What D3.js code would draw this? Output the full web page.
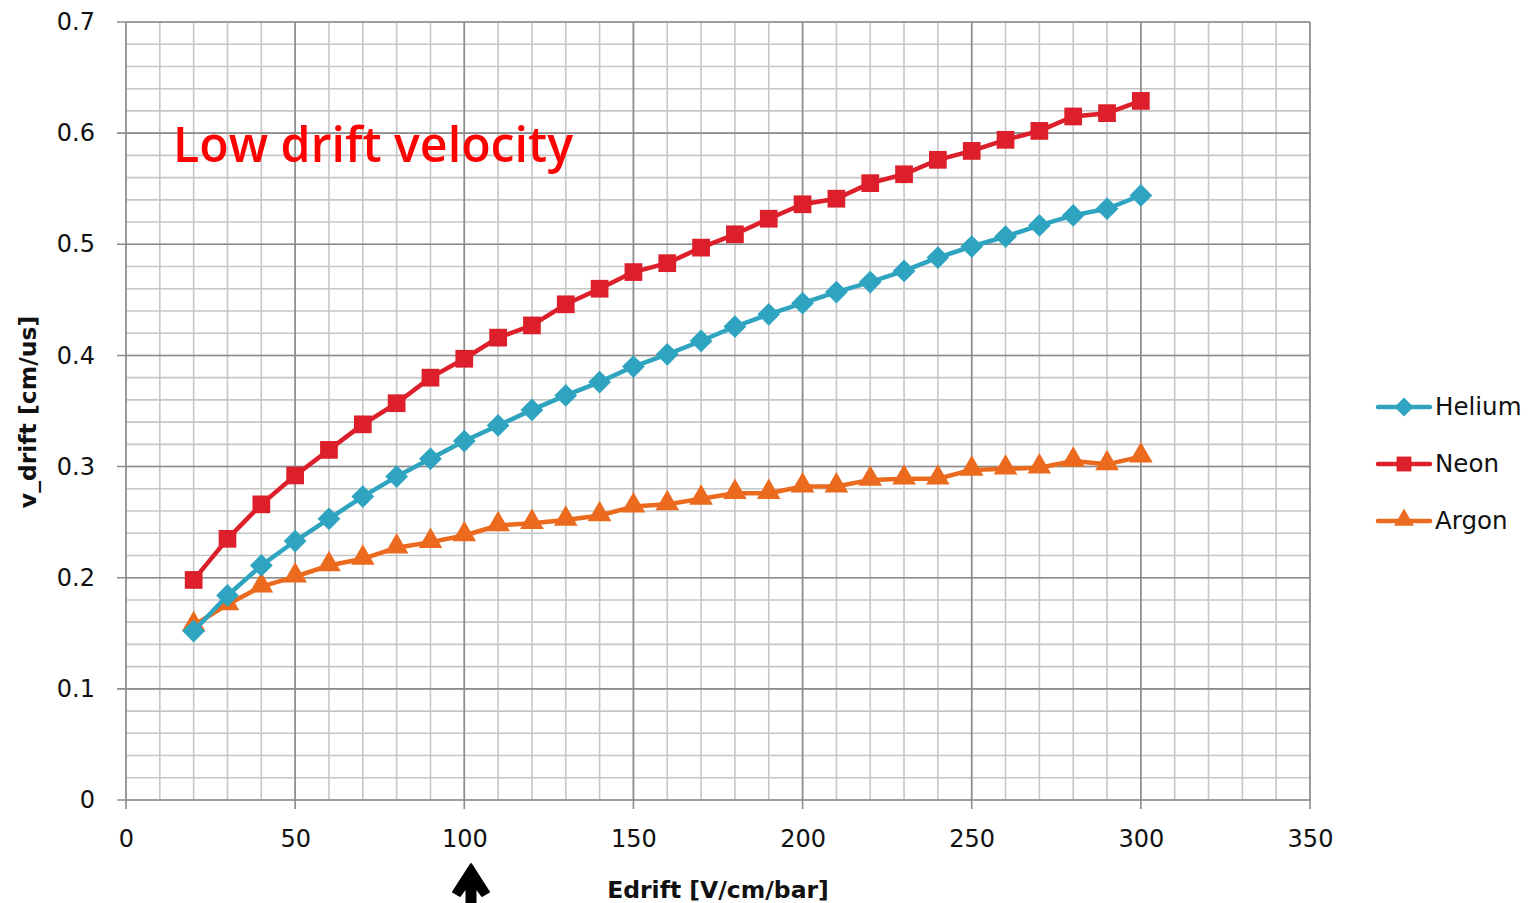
<!DOCTYPE html>
<html><head><meta charset="utf-8">
<script src="https://cdn.jsdelivr.net/npm/d3@7"></script>
<style>body{margin:0;background:#fff}svg{display:block}</style>
</head><body>
<svg id="c" width="1531" height="903"></svg>
<script>
const xValues = [20,30,40,50,60,70,80,90,100,110,120,130,140,150,160,170,180,190,200,210,220,230,240,250,260,270,280,290,300];
const helium = [0.152,0.184,0.211,0.233,0.253,0.273,0.291,0.307,0.323,0.337,0.351,0.364,0.376,0.390,0.401,0.413,0.426,0.437,0.447,0.457,0.466,0.476,0.488,0.498,0.507,0.517,0.526,0.532,0.544];
const neon = [0.198,0.235,0.266,0.292,0.315,0.338,0.357,0.380,0.397,0.416,0.427,0.446,0.460,0.475,0.483,0.497,0.509,0.523,0.536,0.541,0.555,0.563,0.576,0.584,0.594,0.602,0.615,0.618,0.629];
const argon = [0.157,0.176,0.192,0.201,0.211,0.217,0.227,0.232,0.238,0.247,0.249,0.252,0.256,0.264,0.266,0.271,0.276,0.276,0.282,0.282,0.288,0.289,0.289,0.297,0.298,0.299,0.305,0.302,0.309];
const seriesNames = ["Helium","Neon","Argon"];
const xTicks = [0,50,100,150,200,250,300,350];
const yTicks = [0,0.1,0.2,0.3,0.4,0.5,0.6,0.7];
const xTitle = "Edrift [V/cm/bar]";
const yTitle = "v_drift [cm/us]";
const annotation = "Low drift velocity";

const colors = {Helium:"#2ea4c1", Neon:"#dc1f2a", Argon:"#ec6a1d"};
const shapes = {Helium:d3.symbolDiamond2, Neon:d3.symbolSquare2, Argon:d3.symbolTriangle2};
const sizes = {Helium:330, Neon:400, Argon:400};
const data = {Helium:helium, Neon:neon, Argon:argon};

const svg = d3.select("#c");
const L=126, R=1310, T=22, B=800;
const x = d3.scaleLinear().domain([0,350]).range([L,R]);
const y = d3.scaleLinear().domain([0,0.7]).range([B,T]);
const font = "'DejaVu Sans', sans-serif";

const g = svg.append("g");
const minorX = d3.range(0,351,10), minorY = d3.range(0,0.7001,0.02);
g.selectAll(".mx").data(minorX).join("line")
 .attr("x1",d=>x(d)).attr("x2",d=>x(d)).attr("y1",T).attr("y2",B)
 .attr("stroke","#c6c6c6").attr("stroke-width",1.6);
g.selectAll(".my").data(minorY).join("line")
 .attr("y1",d=>y(d)).attr("y2",d=>y(d)).attr("x1",L).attr("x2",R)
 .attr("stroke","#c6c6c6").attr("stroke-width",1.6);
g.selectAll(".Mx").data(xTicks).join("line")
 .attr("x1",d=>x(d)).attr("x2",d=>x(d)).attr("y1",T).attr("y2",B+9)
 .attr("stroke","#8c8c8c").attr("stroke-width",1.6);
g.selectAll(".My").data(yTicks).join("line")
 .attr("y1",d=>y(d)).attr("y2",d=>y(d)).attr("x1",L-9).attr("x2",R)
 .attr("stroke","#8c8c8c").attr("stroke-width",1.6);

const xa = svg.append("g").attr("transform",`translate(0,${B})`)
 .call(d3.axisBottom(x).tickValues(xTicks).tickSize(0).tickPadding(30).tickFormat(d3.format("d")));
const ya = svg.append("g").attr("transform",`translate(${L},0)`)
 .call(d3.axisLeft(y).tickValues(yTicks).tickSize(0).tickPadding(31).tickFormat(d=>d===0?"0":d3.format(".1f")(d)));
[xa,ya].forEach(a=>{a.select(".domain").remove();
 a.selectAll("text").attr("font-family",font).attr("font-size",24).attr("fill","#111");});

svg.append("text").attr("x",173).attr("y",162).text(annotation)
 .attr("font-family","'Open Sans', sans-serif").attr("font-weight",600).attr("font-size",48).attr("fill","#ff0000")
 .attr("textLength",400).attr("lengthAdjust","spacingAndGlyphs");

const line = d3.line().x((d,i)=>x(xValues[i])).y(d=>y(d));
["Argon","Helium","Neon"].forEach(name=>{
  const s = svg.append("g");
  s.append("path").datum(data[name]).attr("d",line).attr("fill","none")
   .attr("stroke",colors[name]).attr("stroke-width",4.5).attr("stroke-linejoin","round");
  s.selectAll("path.m").data(data[name]).join("path").attr("class","m")
   .attr("transform",(d,i)=>`translate(${x(xValues[i])},${y(d)+(name==="Argon"?-1:0)})`)
   .attr("d",d3.symbol().type(shapes[name]).size(sizes[name]))
   .attr("fill",colors[name]);
});

const lg = svg.append("g");
seriesNames.forEach((name,i)=>{
  const ly = 407 + i*57;
  lg.append("line").attr("x1",1378).attr("x2",1430).attr("y1",ly).attr("y2",ly)
    .attr("stroke",colors[name]).attr("stroke-width",4.5).attr("stroke-linecap","round");
  lg.append("path").attr("transform",`translate(1404,${ly+(name==="Argon"?-1:0)})`)
    .attr("d",d3.symbol().type(shapes[name]).size(sizes[name]*0.7)).attr("fill",colors[name]);
  lg.append("text").attr("x",1435).attr("y",ly+8).text(name)
    .attr("font-family",font).attr("font-size",24.5).attr("fill","#111");
});

svg.append("text").attr("x",718).attr("y",898).attr("text-anchor","middle").text(xTitle)
 .attr("font-family",font).attr("font-weight","bold").attr("font-size",23.5).attr("fill","#111");
svg.append("text").attr("transform","translate(36,412) rotate(-90)").attr("text-anchor","middle").text(yTitle)
 .attr("font-family",font).attr("font-weight","bold").attr("font-size",23.5).attr("fill","#111");

// arrow under x axis
svg.append("path").attr("d","M471,864 L489,892 L482,896 L475.5,887 L475.5,903 L466.5,903 L466.5,887 L460,896 L453,892 Z")
 .attr("fill","#000").attr("stroke","#000").attr("stroke-width",2).attr("stroke-linejoin","round");
</script>
</body></html>
